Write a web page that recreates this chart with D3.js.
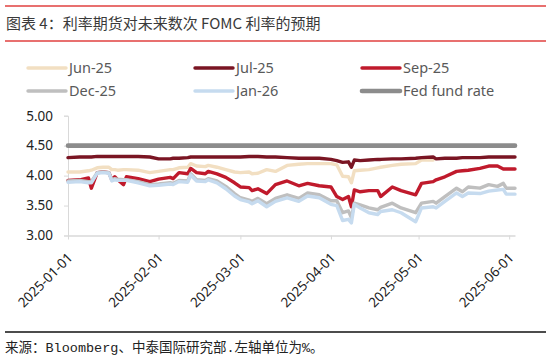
<!doctype html>
<html lang="zh">
<head>
<meta charset="utf-8">
<script src="https://cdnjs.cloudflare.com/ajax/libs/d3/7.8.5/d3.min.js"></script>
<style>
  body { margin: 0; background: #fff; }
  svg text { font-family: "Noto Sans", "Noto Sans CJK SC", sans-serif; }
</style>
</head>
<body>
<script>

// dates of the sampled points
var dates = ["2025-01-01","2025-01-05","2025-01-08","2025-01-09","2025-01-11","2025-01-13","2025-01-15",
  "2025-01-16","2025-01-17","2025-01-18","2025-01-20","2025-01-21","2025-01-25","2025-01-29",
  "2025-02-01","2025-02-05","2025-02-06","2025-02-08","2025-02-11","2025-02-12","2025-02-14",
  "2025-02-17","2025-02-18","2025-02-21","2025-02-24","2025-02-27","2025-03-01","2025-03-04",
  "2025-03-05","2025-03-07","2025-03-10","2025-03-13","2025-03-17","2025-03-21","2025-03-24",
  "2025-03-28","2025-04-01","2025-04-03","2025-04-05","2025-04-07","2025-04-08","2025-04-09",
  "2025-04-11","2025-04-14","2025-04-17","2025-04-18","2025-04-22","2025-04-25","2025-04-30",
  "2025-05-02","2025-05-06","2025-05-07","2025-05-10","2025-05-14","2025-05-16","2025-05-18",
  "2025-05-22","2025-05-25","2025-05-28","2025-05-30","2025-05-31","2025-06-03"];

var jun25 = [4.06,4.06,4.08,4.09,4.13,4.14,4.14,4.10,4.10,4.09,4.10,4.10,4.09,4.05,
  4.07,4.10,4.10,4.13,4.14,4.20,4.16,4.15,4.17,4.14,4.10,4.06,4.05,4.06,
  4.03,4.04,4.10,4.07,4.17,4.19,4.20,4.20,4.20,4.18,3.99,3.98,3.88,4.08,
  4.09,4.10,4.13,4.14,4.17,4.19,4.20,4.26,4.26,null,null,null,null,null,
  null,null,null,null,null,null];

var jul25 = [4.30,4.31,4.31,4.31,4.32,4.32,4.32,4.32,4.32,4.32,4.32,4.32,4.32,4.31,
  4.28,4.28,4.29,4.29,4.30,4.31,4.31,4.31,4.31,4.31,4.31,4.31,4.31,4.32,
  4.32,4.32,4.31,4.31,4.30,4.29,4.29,4.29,4.27,4.25,4.22,4.23,4.14,4.26,
  4.25,4.26,4.27,4.27,4.28,4.28,4.29,4.30,4.31,4.28,4.29,4.29,4.30,4.30,
  4.30,4.31,4.31,4.31,4.31,4.31];

var sep25 = [3.92,3.93,3.96,3.79,4.05,4.06,4.05,3.93,3.98,3.93,3.85,3.98,3.95,3.90,
  3.94,3.97,3.95,4.05,4.03,4.12,4.05,4.03,4.07,4.03,3.97,3.88,3.81,3.80,
  3.75,3.78,3.70,3.85,3.91,3.83,3.87,3.83,3.81,3.65,3.60,3.65,3.48,3.76,
  3.73,3.75,3.75,3.65,3.81,3.75,3.68,3.87,3.90,3.93,3.98,4.07,4.08,4.09,
  4.12,4.16,4.16,4.11,4.11,4.11];

var dec25 = [3.91,3.92,3.90,3.90,4.05,4.06,4.05,3.93,3.95,3.94,3.93,3.93,3.90,3.85,
  3.86,3.88,3.87,3.92,3.91,4.03,3.93,3.92,3.95,3.91,3.82,3.70,3.63,3.59,
  3.57,3.62,3.53,3.62,3.68,3.62,3.71,3.68,3.58,3.58,3.38,3.41,3.30,3.54,
  3.51,3.46,3.43,3.47,3.54,3.46,3.38,3.54,3.57,3.54,3.65,3.79,3.73,3.81,
  3.79,3.85,3.82,3.87,3.79,3.79];

var jan26 = [3.89,3.90,3.88,3.88,4.04,4.05,4.04,3.91,3.93,3.92,3.92,3.92,3.88,3.83,
  3.84,3.86,3.85,3.90,3.89,4.01,3.91,3.90,3.93,3.88,3.78,3.66,3.60,3.56,
  3.53,3.58,3.48,3.57,3.63,3.57,3.66,3.63,3.52,3.50,3.25,3.27,3.21,3.52,
  3.46,3.38,3.35,3.40,3.43,3.38,3.23,3.46,3.48,3.46,3.57,3.71,3.65,3.71,
  3.70,3.74,3.76,3.77,3.69,3.69];

var fedRate = dates.map(function(){ return 4.50; });

var seriesNames = ["Jun-25","Jul-25","Sep-25","Dec-25","Jan-26","Fed fund rate"];
var seriesValues = [jun25, jul25, sep25, dec25, jan26, fedRate];
var seriesColors = ["#F2DFC2","#7A1523","#C01A2C","#BFBFBF","#C6DBEF","#8C8C8C"];
var seriesWidths = [3.4, 3.4, 3.4, 3.4, 3.4, 4.6];

var yTicks = [3.00, 3.50, 4.00, 4.50, 5.00];
var xTicks = ["2025-01-01","2025-02-01","2025-03-01","2025-04-01","2025-05-01","2025-06-01"];

var width = 551, height = 360;
var parse = d3.timeParse("%Y-%m-%d");

var svg = d3.select("body").append("svg")
    .attr("width", width)
    .attr("height", height);

// header
svg.append("line").attr("x1", 5).attr("x2", 546).attr("y1", 6).attr("y2", 6)
    .attr("stroke", "#E0403F").attr("stroke-width", 1.5);
svg.append("line").attr("x1", 5).attr("x2", 546).attr("y1", 41).attr("y2", 41)
    .attr("stroke", "#E0403F").attr("stroke-width", 1.5);
svg.append("text").attr("x", 6).attr("y", 29)
    .style("font-family", "'Noto Sans CJK SC', sans-serif")
    .style("font-size", "15px").attr("fill", "#3a3a3a")
    .text("图表 4：利率期货对未来数次 FOMC 利率的预期");

// scales
var x = d3.scaleTime()
    .domain([parse("2025-01-01"), parse("2025-06-03")])
    .range([68, 515]);
var y = d3.scaleLinear().domain([3, 5]).range([235.5, 115.7]);

// y axis
var yAxis = svg.append("g")
    .attr("transform", "translate(68,0)")
    .call(d3.axisLeft(y).tickValues(yTicks).tickFormat(d3.format(".2f")).tickSize(4).tickPadding(11));
yAxis.select(".domain").attr("stroke", "#D9D9D9");
yAxis.selectAll(".tick line").attr("stroke", "#D9D9D9");
yAxis.selectAll(".tick text").style("font-size", "13.5px").attr("fill", "#222");

// x axis
var xAxis = svg.append("g")
    .attr("transform", "translate(0,235.5)")
    .call(d3.axisBottom(x).tickValues(xTicks.map(parse)).tickSize(4).tickSizeOuter(0).tickFormat(d3.timeFormat("%Y-%m-%d")));
xAxis.select(".domain").attr("stroke", "#D9D9D9").attr("stroke-width", 1.3);
xAxis.selectAll(".tick line").attr("stroke", "#D9D9D9");
xAxis.selectAll(".tick text")
    .style("font-size", "13.5px").attr("fill", "#222")
    .attr("text-anchor", "end")
    .attr("dx", 0).attr("dy", 0)
    .attr("y", 0)
    .attr("transform", "translate(5,23) rotate(-45)");

// lines
var line = d3.line()
    .defined(function(d){ return d.v !== null; })
    .x(function(d){ return x(d.date); })
    .y(function(d){ return y(d.v); });

seriesValues.forEach(function(vals, i){
  var pts = dates.map(function(d, j){ return {date: parse(d), v: vals[j]}; });
  svg.append("path")
    .datum(pts)
    .attr("fill", "none")
    .attr("stroke", seriesColors[i])
    .attr("stroke-width", seriesWidths[i])
    .attr("stroke-linejoin", "round")
    .attr("stroke-linecap", "round")
    .attr("d", line);
});

// legend
var legendX = [28, 195, 362];
var legendY = [68, 91];
seriesNames.forEach(function(name, i){
  var lx = legendX[i % 3], ly = legendY[Math.floor(i / 3)];
  var g = svg.append("g").attr("transform", "translate(" + lx + "," + ly + ")");
  g.append("line").attr("x1", 0).attr("x2", 38).attr("y1", 0).attr("y2", 0)
    .attr("stroke", seriesColors[i]).attr("stroke-width", seriesWidths[i])
    .attr("stroke-linecap", "round");
  g.append("text").attr("x", 41).attr("y", 5)
    .style("font-size", "14.5px").attr("fill", "#595959").text(name);
});

// footer
svg.append("line").attr("x1", 5).attr("x2", 546).attr("y1", 332).attr("y2", 332)
    .attr("stroke", "#111").attr("stroke-width", 1.5);
svg.append("text").attr("x", 5).attr("y", 352)
    .style("font-family", "'Liberation Mono', 'Noto Sans CJK SC', monospace")
    .style("font-size", "13.5px").attr("fill", "#222")
    .text("来源：Bloomberg、中泰国际研究部.左轴单位为%。");

</script>
</body>
</html>
